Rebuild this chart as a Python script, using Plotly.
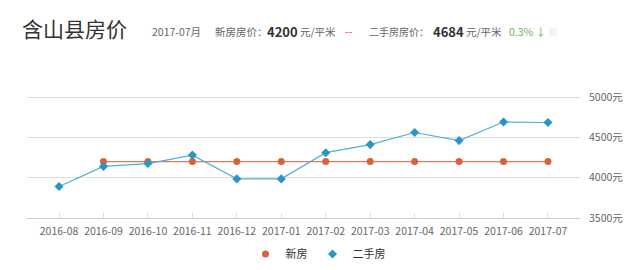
import plotly.graph_objects as go

months = ["2016-08", "2016-09", "2016-10", "2016-11", "2016-12", "2017-01",
          "2017-02", "2017-03", "2017-04", "2017-05", "2017-06", "2017-07"]
new_house = [None, 4200, 4200, 4200, 4200, 4200, 4200, 4200, 4200, 4200, 4200, 4200]
second_house = [3890, 4140, 4175, 4280, 3985, 3985, 4310, 4410, 4560, 4460, 4690, 4684]
y_ticks = [3500, 4000, 4500, 5000]
y_tick_text = [f"{v}元" for v in y_ticks]

W, H = 640, 270
ML, MR, MT, MB = 27, 60, 93, 52
PW = W - ML - MR

def px(x):
    return (x - ML) / PW

def py(y):
    return 1 + (MT - y) / (H - MT - MB)

FONT = "Noto Sans CJK SC, Noto Sans, sans-serif"
NEW_LINE, NEW_MK = "#e07a5a", "#d9623a"
SEC_LINE, SEC_MK = "#4db3d3", "#2a95c5"

fig = go.Figure()
fig.add_trace(go.Scatter(
    x=months, y=new_house, name="新房", mode="lines+markers", legendgroup="new",
    showlegend=False,
    line=dict(color=NEW_LINE, width=1.2),
    marker=dict(symbol="circle", size=7, color=NEW_MK),
))
fig.add_trace(go.Scatter(
    x=months, y=second_house, name="二手房", mode="lines+markers", legendgroup="sec",
    showlegend=False,
    line=dict(color=SEC_LINE, width=1.2),
    marker=dict(symbol="diamond", size=7, color=SEC_MK),
))
# legend entries (marker only, like the reference)
fig.add_trace(go.Scatter(x=[None], y=[None], name="新房", mode="markers", legendgroup="new",
                         marker=dict(symbol="circle", size=7, color=NEW_MK)))
fig.add_trace(go.Scatter(x=[None], y=[None], name="二手房", mode="markers", legendgroup="sec",
                         marker=dict(symbol="diamond", size=7, color=SEC_MK)))

ann = [
    dict(text="含山县房价", x=20, y=28, size=21, color="#333333"),
    dict(text="2017-07月", x=150, y=31, size=10.5, color="#666666"),
    dict(text="新房房价：", x=213, y=31, size=10.5, color="#666666"),
    dict(text="<b>4200</b>", x=265, y=31, size=13, color="#333333"),
    dict(text="元/平米", x=298, y=31, size=10.5, color="#666666"),
    dict(text="--", x=343, y=31, size=11, color="#e05a4a"),
    dict(text="二手房房价：", x=367, y=31, size=10, color="#666666"),
    dict(text="<b>4684</b>", x=431, y=31, size=13, color="#333333"),
    dict(text="元/平米", x=464, y=31, size=10.5, color="#666666"),
    dict(text="0.3% ↓", x=507, y=31, size=10.5, color="#6cb35a"),
    dict(text="▥", x=547, y=31, size=8, color="#cccccc"),
]
annotations = []
for a in ann:
    annotations.append(dict(
        text=a["text"], x=px(a["x"]), y=py(a["y"]), xref="paper", yref="paper",
        xanchor="left", yanchor="middle", showarrow=False,
        font=dict(size=a["size"], color=a["color"], family=FONT),
    ))

fig.update_layout(
    width=W, height=H, autosize=False,
    margin=dict(l=ML, r=MR, t=MT, b=MB, autoexpand=False),
    paper_bgcolor="white", plot_bgcolor="white",
    font=dict(family=FONT, color="#666666", size=11),
    showlegend=True,
    legend=dict(orientation="h", x=px(318), xanchor="center",
                y=py(254), yanchor="middle", font=dict(size=11, color="#333333"),
                tracegroupgap=0),
    xaxis=dict(
        type="category", categoryorder="array", categoryarray=months,
        showgrid=False, showline=True, linecolor="#cccccc", linewidth=1,
        ticks="inside", ticklen=5, tickcolor="#dddddd",
        tickfont=dict(size=10.5, color="#666666"), tickangle=0, automargin=False,
        ticklabelstandoff=3,
    ),
    yaxis=dict(
        range=[3500, 5050], side="right", tickvals=y_ticks, ticktext=y_tick_text,
        showgrid=True, gridcolor="#dddddd", gridwidth=1, zeroline=False, showline=False,
        ticks="", tickfont=dict(size=10.5, color="#666666"), automargin=False,
        ticklabelstandoff=8,
    ),
    annotations=annotations,
)

fig.write_html("out.html")
